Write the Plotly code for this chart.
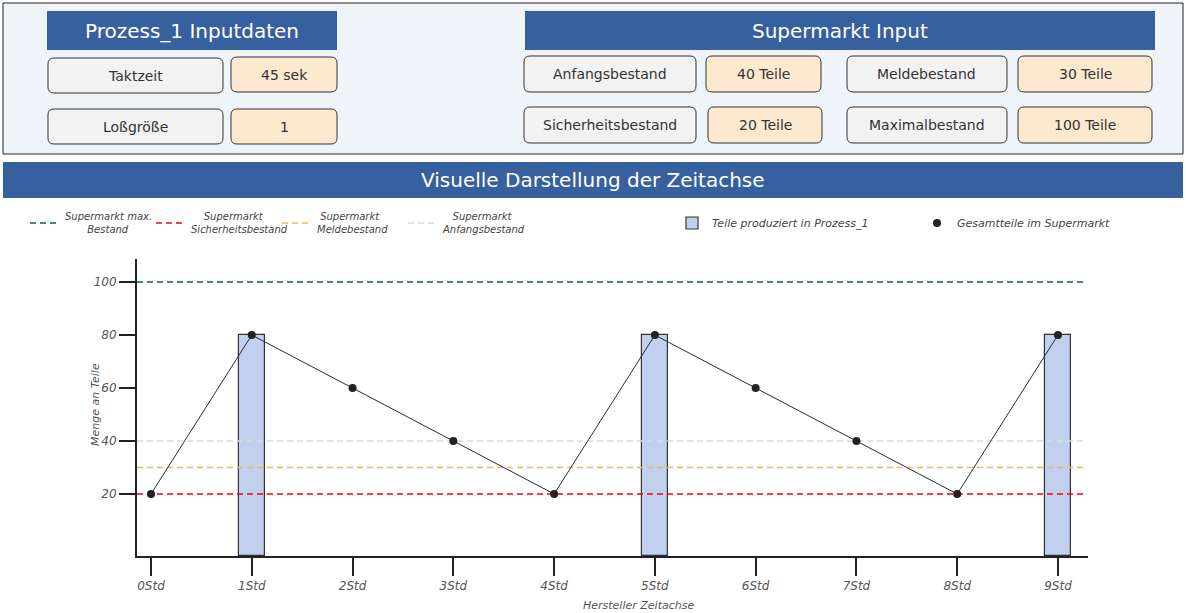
import plotly.graph_objects as go

W, H = 1186, 613

# --- data ---
hours = [0, 1, 2, 3, 4, 5, 6, 7, 8, 9]
hour_labels = ["0Std", "1Std", "2Std", "3Std", "4Std", "5Std", "6Std", "7Std", "8Std", "9Std"]
stock = [20, 80, 60, 40, 20, 80, 60, 40, 20, 80]
prod_hours = [1, 5, 9]
prod_parts = [80, 80, 80]

max_level = 100
safety_level = 20
reorder_level = 30
start_level = 40

y_ticks = [20, 40, 60, 80, 100]

process_labels = ["Taktzeit", "Loßgröße"]
process_values = ["45 sek", "1"]
market_labels = ["Anfangsbestand", "Meldebestand", "Sicherheitsbestand", "Maximalbestand"]
market_values = ["40 Teile", "30 Teile", "20 Teile", "100 Teile"]

X_RANGE = [-0.139, 9.298]
Y_RANGE = [-3.4, 108.7]

BLUE = "#37609e"
GREY_BOX = "#f2f2f2"
PEACH = "#fde9d0"
FONT = "DejaVu Sans"
NB = "\u00a0"


def fx(x):
    return x / W


def fy(y):
    return 1 - y / H


def rrect(x0, y0, x1, y1, r=6):
    pts = [
        ("M", [(x0 + r, y0)]),
        ("L", [(x1 - r, y0)]),
        ("Q", [(x1, y0), (x1, y0 + r)]),
        ("L", [(x1, y1 - r)]),
        ("Q", [(x1, y1), (x1 - r, y1)]),
        ("L", [(x0 + r, y1)]),
        ("Q", [(x0, y1), (x0, y1 - r)]),
        ("L", [(x0, y0 + r)]),
        ("Q", [(x0, y0), (x0 + r, y0)]),
    ]
    s = ""
    for cmd, ps in pts:
        s += cmd + " ".join(f"{fx(a):.5f},{fy(b):.5f}" for a, b in ps) + " "
    return s + "Z"


shapes = []
annotations = []


def box(x0, y0, x1, y1, fill, text, rounded=True, size=14, color="#333", line=True):
    if rounded:
        shapes.append(dict(type="path", path=rrect(x0, y0, x1, y1), xref="paper", yref="paper",
                           fillcolor=fill, line=dict(color="#333", width=1), layer="below"))
    else:
        shapes.append(dict(type="rect", x0=fx(x0), x1=fx(x1), y0=fy(y1), y1=fy(y0),
                           xref="paper", yref="paper", fillcolor=fill,
                           line=dict(color="#222", width=1 if line else 0), layer="below"))
    if text:
        annotations.append(dict(x=fx((x0 + x1) / 2), y=fy((y0 + y1) / 2), xref="paper", yref="paper",
                                text=text, showarrow=False, xanchor="center", yanchor="middle",
                                font=dict(family=FONT, size=size, color=color)))


# top panel
box(3, 3, 1183, 154, "#eff4f9", "", rounded=False)
box(47, 11, 337, 50, BLUE, "Prozess_1 Inputdaten", rounded=False, size=20, color="white", line=False)
box(525, 11, 1155, 50, BLUE, "Supermarkt Input", rounded=False, size=20, color="white", line=False)

box(48, 58, 223, 93, GREY_BOX, process_labels[0])
box(231, 57, 337, 92, PEACH, process_values[0])
box(48, 109, 223, 144, GREY_BOX, process_labels[1])
box(231, 109, 337, 144, PEACH, process_values[1])

box(524, 56, 696, 92, GREY_BOX, market_labels[0])
box(706, 56, 821, 92, PEACH, market_values[0])
box(847, 56, 1007, 92, GREY_BOX, market_labels[1])
box(1018, 56, 1152, 92, PEACH, market_values[1])
box(524, 107, 696, 143, GREY_BOX, market_labels[2])
box(708, 107, 822, 143, PEACH, market_values[2])
box(847, 107, 1007, 143, GREY_BOX, market_labels[3])
box(1018, 107, 1152, 143, PEACH, market_values[3])

# banner
box(3, 162, 1183, 198, BLUE, "Visuelle Darstellung der Zeitachse", rounded=False, size=20,
    color="white", line=False)

# axis titles
axis_font = dict(family=FONT, size=11, color="#555", style="italic")
annotations.append(dict(x=fx(638), y=fy(605), xref="paper", yref="paper", text="Hersteller Zeitachse",
                        showarrow=False, xanchor="center", yanchor="middle", font=axis_font))
annotations.append(dict(x=fx(95), y=fy(405), xref="paper", yref="paper", text="Menge an Teile",
                        textangle=-90, showarrow=False, xanchor="center", yanchor="middle",
                        font=axis_font))

fig = go.Figure()


def hline(level, color, name):
    fig.add_trace(go.Scatter(x=[X_RANGE[0], X_RANGE[1] - 0.03], y=[level, level], mode="lines",
                             line=dict(color=color, width=1.4, dash="6px,4px"), name=name,
                             legend="legend", hoverinfo="skip"))


hline(max_level, "#0f6636", "Supermarkt max.<br>" + NB * 7 + "Bestand")
hline(safety_level, "#ff0000", NB * 4 + "Supermarkt<br>Sicherheitsbestand")
hline(reorder_level, "#f7b84e", NB + "Supermarkt<br>Meldebestand")
hline(start_level, "#d9d9d9", NB * 3 + "Supermarkt<br>Anfangsbestand")

fig.add_trace(go.Bar(x=prod_hours, y=[v - Y_RANGE[0] for v in prod_parts], base=Y_RANGE[0],
                     width=0.26, marker=dict(color="#c0d0ee", line=dict(color="#333", width=1.2)),
                     name="Teile produziert in Prozess_1", legend="legend2"))

fig.add_trace(go.Scatter(x=hours, y=stock, mode="lines+markers",
                         line=dict(color="#2a2a35", width=1),
                         marker=dict(color="#222", size=8),
                         name="Gesamtteile im Supermarkt", showlegend=False))
# legend entry with the dot only
fig.add_trace(go.Scatter(x=[None], y=[None], mode="markers", marker=dict(color="#222", size=8),
                         name="Gesamtteile im Supermarkt", legend="legend3"))

leg_font = dict(family=FONT, size=11, color="#444", style="italic")
leg_font_small = dict(family=FONT, size=10, color="#444", style="italic")
leg_y = fy(223)

fig.update_layout(
    width=W, height=H,
    margin=dict(l=0, r=0, t=0, b=0),
    paper_bgcolor="white", plot_bgcolor="white",
    shapes=shapes, annotations=annotations,
    showlegend=True,
    legend=dict(orientation="h", x=fx(25), y=leg_y, xanchor="left", yanchor="middle",
                font=leg_font_small, bgcolor="rgba(0,0,0,0)", itemwidth=30, entrywidth=81),
    legend2=dict(orientation="h", x=fx(672), y=leg_y, xanchor="left", yanchor="middle",
                 font=leg_font, bgcolor="rgba(0,0,0,0)"),
    legend3=dict(orientation="h", x=fx(917), y=leg_y, xanchor="left", yanchor="middle",
                 font=leg_font, bgcolor="rgba(0,0,0,0)"),
    xaxis=dict(domain=[fx(137), fx(1088)], range=X_RANGE, tickvals=hours, ticktext=hour_labels,
               showline=True, linecolor="#222", linewidth=2, ticks="outside", ticklen=18,
               tickwidth=2, tickcolor="#222", showgrid=False, zeroline=False,
               tickfont=dict(family=FONT, size=12, color="#555", style="italic")),
    yaxis=dict(domain=[fy(556), fy(259)], range=Y_RANGE, tickvals=y_ticks,
               showline=True, linecolor="#222", linewidth=2, ticks="outside", ticklen=16,
               tickwidth=2, tickcolor="#222", showgrid=False, zeroline=False,
               tickfont=dict(family=FONT, size=12, color="#555", style="italic")),
    bargap=0,
)

fig.write_html("out.html", config={"displayModeBar": False},
               post_script="document.body.style.margin='0';document.body.style.overflow='hidden';")
